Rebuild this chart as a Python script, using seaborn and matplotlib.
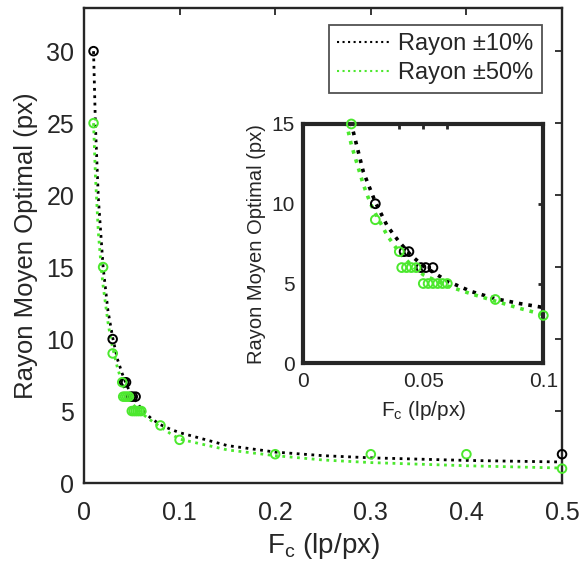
import matplotlib
matplotlib.use("Agg")
import matplotlib.pyplot as plt
import seaborn as sns
import pandas as pd

# ---- data ----
# fitted curves
fit10_x = [0.01, 0.012, 0.015, 0.02, 0.025, 0.03, 0.035, 0.04, 0.045, 0.05, 0.06, 0.07,
           0.08, 0.09, 0.1, 0.15, 0.2, 0.25, 0.3, 0.4, 0.5]
fit10_y = [30.0, 24.8, 19.8, 15.0, 12.0, 10.1, 8.6, 7.6, 6.75, 6.1, 5.15, 4.5,
           4.05, 3.75, 3.5, 2.6, 2.15, 1.9, 1.75, 1.57, 1.46]
fit50_x = [0.01, 0.012, 0.015, 0.018, 0.02, 0.025, 0.028, 0.03, 0.035, 0.04, 0.045, 0.05,
           0.06, 0.07, 0.08, 0.09, 0.1, 0.15, 0.2, 0.25, 0.3, 0.4, 0.5]
fit50_y = [25.0, 21.3, 17.4, 15.0, 13.7, 11.2, 10.0, 9.4, 8.0, 6.95, 6.15, 5.55,
           4.85, 4.35, 3.9, 3.45, 3.05, 2.3, 1.9, 1.6, 1.42, 1.2, 1.04]
# measured points
pts10_x = [0.01, 0.03, 0.042, 0.044, 0.049, 0.051, 0.054, 0.5]
pts10_y = [30, 10, 7, 7, 6, 6, 6, 2]
pts50_x = [0.01, 0.02, 0.03, 0.04, 0.041, 0.043, 0.045, 0.047, 0.05, 0.052, 0.054, 0.056,
           0.058, 0.06, 0.08, 0.1, 0.2, 0.3, 0.4, 0.5]
pts50_y = [25, 15, 9, 7, 6, 6, 6, 6, 5, 5, 5, 5, 5, 5, 4, 3, 2, 2, 2, 1]

labels = ["Rayon \u00b110%", "Rayon \u00b150%"]
main_xticks = [0, 0.1, 0.2, 0.3, 0.4, 0.5]
main_xticklabels = ["0", "0.1", "0.2", "0.3", "0.4", "0.5"]
main_yticks = [0, 5, 10, 15, 20, 25, 30]
inset_xticks = [0, 0.04, 0.05, 0.06, 0.1]
inset_xticklabels = ["0", "", "0.05", "", "0.1"]
inset_yticks = [0, 5, 10, 15]
xlabel = r"F$_\mathregular{c}$ (lp/px)"
ylabel = "Rayon Moyen Optimal (px)"

# ---- style ----
sns.set_theme(style="white")
plt.rcParams["font.family"] = ["Liberation Sans", "DejaVu Sans"]
plt.rcParams["mathtext.fontset"] = "custom"
plt.rcParams["mathtext.rm"] = "Liberation Sans"
INK = "#262626"
BLACK = "#000000"
GREEN = "#4ce82e"

fit10 = pd.DataFrame({"x": fit10_x, "y": fit10_y})
fit50 = pd.DataFrame({"x": fit50_x, "y": fit50_y})
p10 = pd.DataFrame({"x": pts10_x, "y": pts10_y})
p50 = pd.DataFrame({"x": pts50_x, "y": pts50_y})

fig = plt.figure(figsize=(5.8, 5.7), dpi=100)
ax = fig.add_axes([0.1448, 0.1526, 0.969 - 0.1448, 0.986 - 0.1526])
axi = fig.add_axes([0.523, 0.3626, 0.9367 - 0.523, 0.7825 - 0.3626])


def draw(a, lw, ms, mew):
    sns.lineplot(data=fit10, x="x", y="y", ax=a, color=BLACK, linestyle=":",
                 linewidth=lw, label=labels[0], sort=False)
    sns.lineplot(data=fit50, x="x", y="y", ax=a, color=GREEN, linestyle=":",
                 linewidth=lw, label=labels[1], sort=False)
    sns.scatterplot(data=p10, x="x", y="y", ax=a, marker="o", s=ms,
                    facecolors="none", edgecolor=BLACK, linewidth=mew, zorder=4,
                    clip_on=False)
    sns.scatterplot(data=p50, x="x", y="y", ax=a, marker="o", s=ms,
                    facecolors="none", edgecolor=GREEN, linewidth=mew, zorder=4,
                    clip_on=False)


draw(ax, 2.0, 38, 1.4)
draw(axi, 2.6, 40, 1.4)

# main axes
ax.set_xlim(0, 0.5)
ax.set_ylim(0, 33)
ax.set_xticks(main_xticks)
ax.set_xticklabels(main_xticklabels)
ax.set_yticks(main_yticks)
ax.set_xlabel(xlabel, fontsize=20, color=INK, labelpad=4)
ax.set_ylabel(ylabel, fontsize=18.5, color=INK, labelpad=6)
ax.tick_params(direction="in", length=5, width=1.3, colors=INK, labelsize=18,
               top=True, right=True, pad=7)
ax.tick_params(axis="x", pad=13)
for sp in ax.spines.values():
    sp.set_color(INK)
    sp.set_linewidth(1.7)

leg = ax.legend(loc="upper right", bbox_to_anchor=(0.958, 0.964), fontsize=17,
                frameon=True, fancybox=False, handlelength=2.2, handletextpad=0.4,
                borderpad=0.35, labelspacing=0.3, borderaxespad=0.0)
leg.get_frame().set_edgecolor(INK)
leg.get_frame().set_linewidth(1.3)
for t in leg.get_texts():
    t.set_color(INK)
for h in leg.get_lines():
    h.set_linewidth(1.5)

# inset axes
axi.set_xlim(0, 0.1)
axi.set_ylim(0, 15)
axi.set_xticks(inset_xticks)
axi.set_xticklabels(inset_xticklabels)
axi.set_yticks(inset_yticks)
axi.set_xlabel(xlabel, fontsize=15, color=INK, labelpad=6)
axi.set_ylabel(ylabel, fontsize=14.5, color=INK, labelpad=4)
axi.tick_params(direction="in", length=3.5, width=2, colors=INK, labelsize=15,
                top=True, right=True, pad=6)
for sp in axi.spines.values():
    sp.set_color(INK)
    sp.set_linewidth(3.0)
if axi.get_legend() is not None:
    axi.get_legend().remove()
axi.set_facecolor("white")

fig.savefig("out.png", dpi=100, facecolor="white")
